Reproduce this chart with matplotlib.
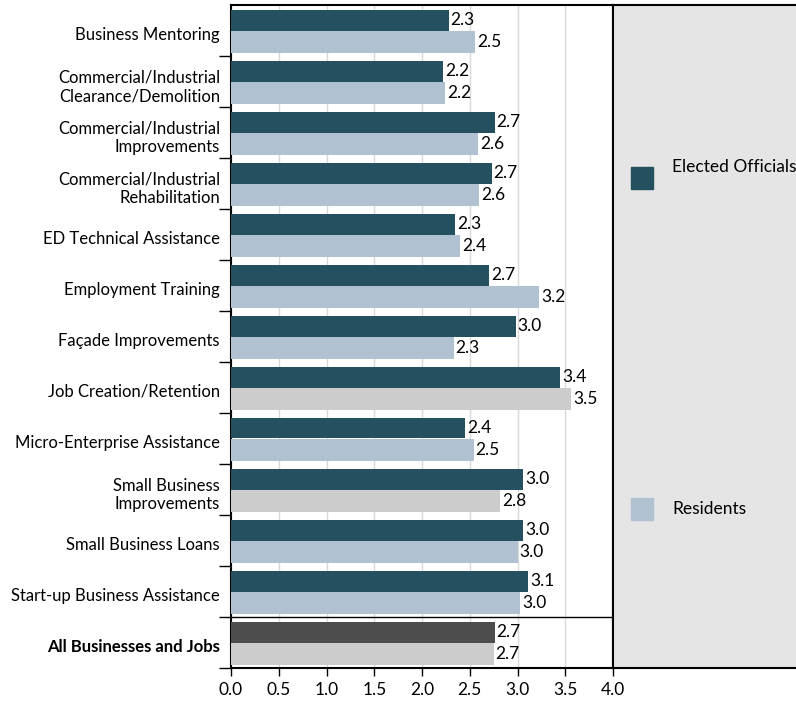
import matplotlib
matplotlib.use("Agg")
import matplotlib.pyplot as plt
from matplotlib.patches import Rectangle

categories = [
    "Business Mentoring",
    "Commercial/Industrial\nClearance/Demolition",
    "Commercial/Industrial\nImprovements",
    "Commercial/Industrial\nRehabilitation",
    "ED Technical Assistance",
    "Employment Training",
    "Façade Improvements",
    "Job Creation/Retention",
    "Micro-Enterprise Assistance",
    "Small Business\nImprovements",
    "Small Business Loans",
    "Start-up Business Assistance",
    "All Businesses and Jobs",
]
elected = [2.28, 2.22, 2.76, 2.73, 2.35, 2.70, 2.98, 3.45, 2.45, 3.06, 3.06, 3.11, 2.76]
residents = [2.56, 2.24, 2.59, 2.60, 2.40, 3.23, 2.33, 3.56, 2.54, 2.82, 3.00, 3.03, 2.75]
elected_labels = ["2.3", "2.2", "2.7", "2.7", "2.3", "2.7", "3.0", "3.4", "2.4", "3.0", "3.0", "3.1", "2.7"]
resident_labels = ["2.5", "2.2", "2.6", "2.6", "2.4", "3.2", "2.3", "3.5", "2.5", "2.8", "3.0", "3.0", "2.7"]
series_names = ["Elected Officials", "Residents"]
x_ticks = [0.0, 0.5, 1.0, 1.5, 2.0, 2.5, 3.0, 3.5, 4.0]

C_EO = "#24505f"
C_RES = "#b0c1d2"
C_GRAY = "#cccccc"
C_ALL = "#4d4d4d"
highlight_res = {"Job Creation/Retention", "Small Business\nImprovements"}

plt.rcParams['font.family'] = ['Lato', 'DejaVu Sans']

fig = plt.figure(figsize=(7.96, 7.02), dpi=100)
ax = fig.add_axes([231/796, 1-668/702, (613-231)/796, (668-5)/702])

n = len(categories)
for i, cat in enumerate(categories):
    is_all = (i == n - 1)
    ceo = C_ALL if is_all else C_EO
    cres = C_GRAY if (is_all or cat in highlight_res) else C_RES
    ax.barh(i - 0.2, elected[i], height=0.40, color=ceo, zorder=3)
    ax.barh(i + 0.22, residents[i], height=0.44, color=cres, zorder=3)
    ax.text(elected[i] + 0.02, i - 0.2, elected_labels[i], va='center', ha='left', fontsize=12.5, zorder=4)
    ax.text(residents[i] + 0.02, i + 0.22, resident_labels[i], va='center', ha='left', fontsize=12.5, zorder=4)

ax.set_xlim(0, 4.0)
ax.set_ylim(n - 0.5, -0.5)
ax.set_xticks(x_ticks)
ax.set_xticklabels([f"{v:.1f}" for v in x_ticks], fontsize=12.5)
ax.grid(axis='x', color='#d9d9d9', linewidth=1, zorder=0)
ax.axhline(n - 1.5, color='black', linewidth=1, zorder=5)

ax.set_yticks([i + 0.5 for i in range(n)])
ax.set_yticklabels([])
ax.set_yticks([i + 0.05 for i in range(n)], minor=True)
ax.set_yticklabels(categories, minor=True, fontsize=12)
ax.tick_params(axis='y', which='minor', length=0, pad=8)
ax.tick_params(axis='y', which='major', length=9, width=1, direction='out')
ax.tick_params(axis='x', length=6, width=1, direction='out', pad=4)
for lbl in ax.get_yticklabels(minor=True):
    lbl.set_horizontalalignment('right')
    lbl.set_multialignment('right')
ax.get_yticklabels(minor=True)[-1].set_fontweight('bold')
for s in ax.spines.values():
    s.set_linewidth(1.5)

# legend panel
lax = fig.add_axes([613/796, 1-668/702, 200/796, (668-5)/702])
lax.set_facecolor('#e5e5e5')
lax.set_xlim(0, 200)
lax.set_ylim(668, 5)
lax.set_xticks([])
lax.set_yticks([])
for s in lax.spines.values():
    s.set_linewidth(1.5)
lax.add_patch(Rectangle((18, 167), 22, 22, color=C_EO))
lax.text(59, 167, series_names[0], fontsize=12.5, va='center', ha='left')
lax.add_patch(Rectangle((18, 498), 22, 22, color=C_RES))
lax.text(59, 509, series_names[1], fontsize=12.5, va='center', ha='left')

fig.savefig("out.png", dpi=100)
